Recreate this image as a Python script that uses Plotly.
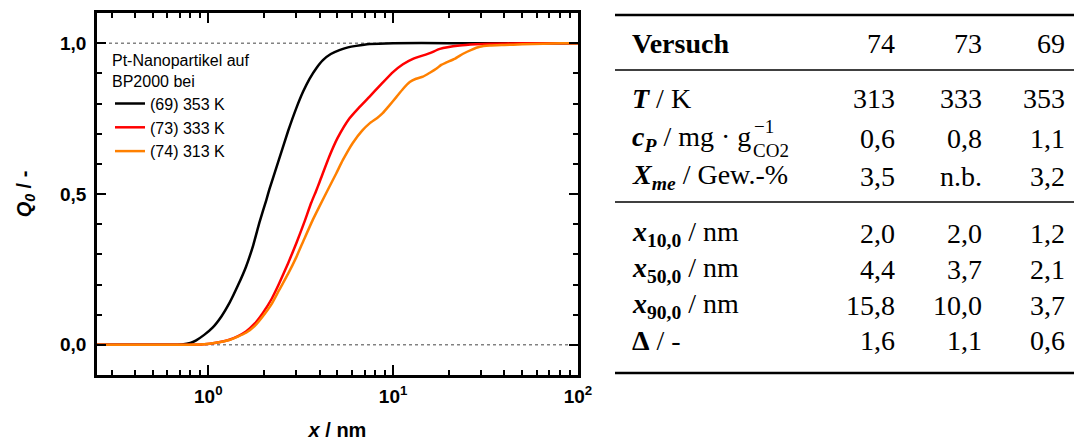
import plotly.graph_objects as go

# ---------------- data ----------------
x_69 = [0.25, 0.6, 0.72, 0.8, 0.86, 0.95, 1.055, 1.18, 1.30, 1.45, 1.60, 1.75, 1.89, 2.06, 2.14,
        2.42, 2.7, 2.99, 3.25, 3.53, 3.85, 4.17, 4.6, 5.12, 5.7, 6.31, 7.46, 10, 20, 50, 100]
q_69 = [0, 0, 0.001, 0.006, 0.015, 0.033, 0.057, 0.095, 0.138, 0.198, 0.259, 0.33, 0.405, 0.48, 0.515,
        0.617, 0.708, 0.784, 0.838, 0.882, 0.918, 0.944, 0.964, 0.977, 0.986, 0.991, 0.997, 1.0, 1.0, 1.0, 1.0]

x_73 = [0.25, 0.7, 0.95, 1.1, 1.30, 1.45, 1.60, 1.78, 1.97, 2.2, 2.42, 2.7, 2.99, 3.3, 3.60, 3.83,
        4.0, 4.52, 5.0, 5.81, 6.5, 7.46, 8.5, 9.98, 11.3, 12.8, 15.8, 17.9, 22.9, 28, 33.3, 50, 100]
q_73 = [0, 0, 0.002, 0.007, 0.017, 0.029, 0.044, 0.07, 0.105, 0.152, 0.204, 0.27, 0.336, 0.405, 0.47, 0.51,
        0.54, 0.625, 0.685, 0.751, 0.785, 0.823, 0.86, 0.904, 0.93, 0.948, 0.967, 0.981, 0.992, 0.996, 0.998, 1.0, 1.0]

x_74 = [0.25, 0.7, 0.95, 1.1, 1.30, 1.60, 1.78, 1.97, 2.2, 2.42, 2.7, 2.99, 3.3, 3.68, 4.0, 4.4,
        4.92, 5.34, 6.06, 6.8, 7.46, 8.2, 8.78, 9.5, 10.4, 11.3, 12.3, 13.3, 14.5, 15.8, 17.1,
        18.2, 19.4, 21.5, 23.9, 26.5, 29.4, 33.3, 40, 50, 65, 80, 100]
q_74 = [0, 0, 0.002, 0.007, 0.016, 0.04, 0.062, 0.094, 0.135, 0.182, 0.235, 0.29, 0.35, 0.415, 0.46, 0.51,
        0.568, 0.612, 0.67, 0.71, 0.734, 0.752, 0.768, 0.792, 0.821, 0.848, 0.871, 0.882, 0.889, 0.902, 0.915,
        0.928, 0.936, 0.948, 0.965, 0.978, 0.988, 0.992, 0.994, 0.996, 0.998, 1.0, 1.0]

series_names = ["(69) 353 K", "(73) 333 K", "(74) 313 K"]
series_colors = ["#000000", "#ff0000", "#ff8000"]

y_tickvals = [0, 0.5, 1.0]
y_ticktext = ["0,0", "0,5", "1,0"]
x_tickvals = [1, 10, 100]
x_ticktext = ["10<sup>0</sup>", "10<sup>1</sup>", "10<sup>2</sup>"]
x_minor = [0.3, 0.4, 0.5, 0.6, 0.7, 0.8, 0.9, 2, 3, 4, 5, 6, 7, 8, 9,
           20, 30, 40, 50, 60, 70, 80, 90]

# table
table_labels = ["<b>Versuch</b>",
                "<b><i>T</i></b> / K",
                "<b><i>c<sub>P</sub></i></b> / mg · g",
                "<b><i>X<sub>me</sub></i></b> / Gew.-%",
                "<b><i>x</i><sub>10,0</sub></b> / nm",
                "<b><i>x</i><sub>50,0</sub></b> / nm",
                "<b><i>x</i><sub>90,0</sub></b> / nm",
                "<b>Δ</b> / -"]
table_74 = ["74", "313", "0,6", "3,5", "2,0", "4,4", "15,8", "1,6"]
table_73 = ["73", "333", "0,8", "n.b.", "2,0", "3,7", "10,0", "1,1"]
table_69 = ["69", "353", "1,1", "3,2", "1,2", "2,1", "3,7", "0,6"]

# ---------------- layout helpers (pixel -> paper) ----------------
W, H = 1074, 445
L, R, T, B = 97, 578, 13, 375


def X(px):
    return (px - L) / (R - L)


def Y(py):
    return (B - py) / (B - T)


fig = go.Figure()
for xs, ys, name, col in [(x_69, q_69, series_names[0], series_colors[0]),
                          (x_73, q_73, series_names[1], series_colors[1]),
                          (x_74, q_74, series_names[2], series_colors[2])]:
    fig.add_trace(go.Scatter(x=xs, y=ys, mode="lines", name=name,
                             line=dict(color=col, width=2.5, shape="spline", smoothing=0.5)))

# dotted reference lines
for yv in [0, 1]:
    fig.add_shape(type="line", xref="paper", yref="y", x0=0, x1=1, y0=yv, y1=yv,
                  line=dict(color="#444444", width=1, dash="dot"), layer="below")

sans = "Liberation Sans, Arial, sans-serif"
serif = "Liberation Serif, Times New Roman, serif"

fig.update_layout(
    width=W, height=H,
    margin=dict(l=L, r=W - R, t=T, b=H - B, autoexpand=False),
    paper_bgcolor="white", plot_bgcolor="white",
    font=dict(family=sans, color="black"),
    showlegend=True,
    legend=dict(x=X(110), y=Y(45), xanchor="left", yanchor="top",
                bgcolor="rgba(0,0,0,0)", font=dict(family=sans, size=16),
                title=dict(text="Pt-Nanopartikel auf<br>BP2000 bei", font=dict(family=sans, size=16)),
                tracegroupgap=0, itemwidth=30),
    xaxis=dict(type="log", range=[-0.602, 2.0], automargin=False,
               showline=True, linewidth=2.5, linecolor="black", mirror="allticks",
               ticks="inside", ticklen=10, tickwidth=2, tickcolor="black",
               tickmode="array", tickvals=x_tickvals, ticktext=x_ticktext,
               tickfont=dict(family=sans, size=19, weight="bold"),
               minor=dict(ticks="inside", ticklen=5, tickwidth=2, tickcolor="black",
                          tickmode="array", tickvals=x_minor),
               showgrid=False, zeroline=False, ticklabelstandoff=2,
               title=dict(text="<b><i>x</i> / nm</b>", font=dict(family=sans, size=20), standoff=18)),
    yaxis=dict(range=[-0.1, 1.1], automargin=False,
               showline=True, linewidth=2.5, linecolor="black", mirror="allticks",
               ticks="inside", ticklen=9, tickwidth=2, tickcolor="black",
               tickmode="array", tickvals=y_tickvals, ticktext=y_ticktext,
               tickfont=dict(family=sans, size=19, weight="bold"),
               minor=dict(ticks="inside", ticklen=5, tickwidth=2, tickcolor="black", dtick=0.1, tick0=0),
               showgrid=False, zeroline=False, ticklabelstandoff=4,
               title=dict(text="<b><i>Q</i><sub><i>0</i></sub> / -</b>", font=dict(family=sans, size=20),
                          standoff=24)),
)

# ---------------- table on the right ----------------
row_y = [43, 99, 138, 176, 233, 269.5, 305.5, 340]
col_right = [897, 984, 1067]
label_left = 630
fs = 28

for i, lab in enumerate(table_labels):
    fig.add_annotation(text=lab, xref="paper", yref="paper", x=X(label_left), y=Y(row_y[i]),
                       xanchor="left", yanchor="middle", showarrow=False,
                       font=dict(family=serif, size=fs, color="black"))
    for vals, cx in zip([table_74, table_73, table_69], col_right):
        fig.add_annotation(text=vals[i], xref="paper", yref="paper", x=X(cx), y=Y(row_y[i]),
                           xanchor="right", yanchor="middle", showarrow=False,
                           font=dict(family=serif, size=fs, color="black"))

# stacked super/subscript of g^-1_CO2
fig.add_annotation(text="−1", xref="paper", yref="paper", x=X(752), y=Y(126),
                   xanchor="left", yanchor="middle", showarrow=False,
                   font=dict(family=serif, size=19, color="black"))
fig.add_annotation(text="CO2", xref="paper", yref="paper", x=X(751), y=Y(150),
                   xanchor="left", yanchor="middle", showarrow=False,
                   font=dict(family=serif, size=19, color="black"))

# booktabs rules
for py, w in [(15, 2.5), (70, 1.5), (202, 1.5), (373, 2.5)]:
    fig.add_shape(type="line", xref="paper", yref="paper", x0=X(615), x1=X(1074),
                  y0=Y(py), y1=Y(py), line=dict(color="black", width=w))

fig.write_html("out.html", config={"displayModeBar": False},
               post_script="document.body.style.margin='0px';")
